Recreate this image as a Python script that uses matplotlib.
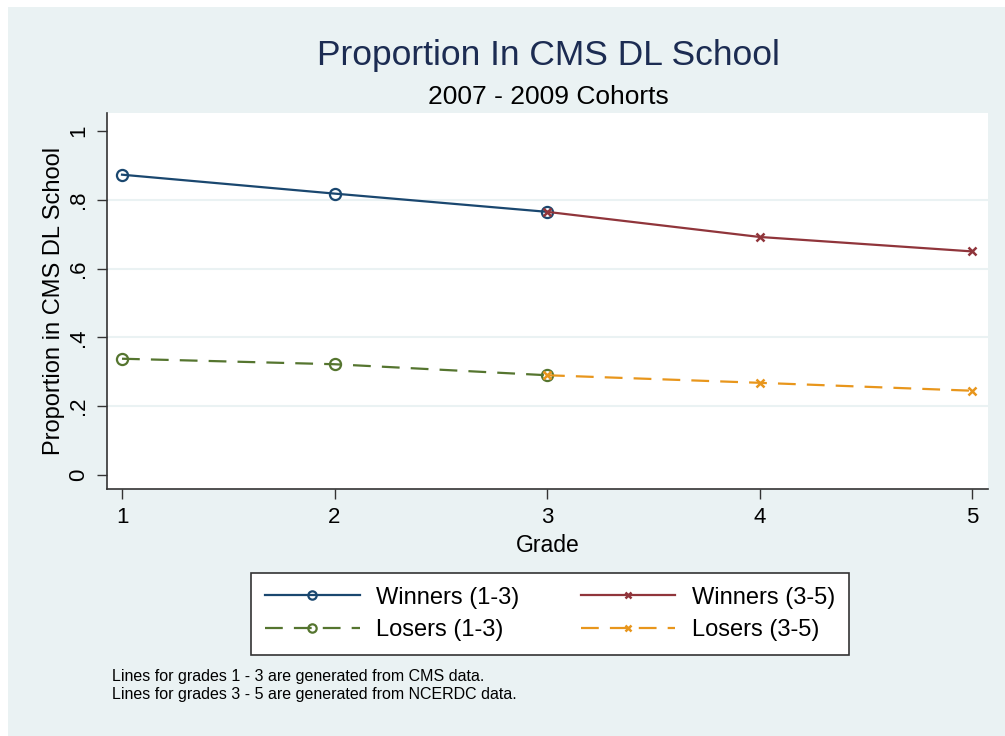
import matplotlib
matplotlib.use("Agg")
import matplotlib.pyplot as plt
from matplotlib.patches import Rectangle

plt.rcParams['font.family'] = ['Liberation Sans', 'DejaVu Sans']

grades_a = [1, 2, 3]
grades_b = [3, 4, 5]
winners_a = [0.873, 0.818, 0.765]
winners_b = [0.765, 0.692, 0.650]
losers_a = [0.338, 0.322, 0.290]
losers_b = [0.290, 0.268, 0.245]
labels = ["Winners (1-3)", "Winners (3-5)", "Losers (1-3)", "Losers (3-5)"]
yticks = [0, 0.2, 0.4, 0.6, 0.8, 1]
yticklabels = ["0", ".2", ".4", ".6", ".8", "1"]
xticks = [1, 2, 3, 4, 5]

W, H = 1005, 736
fig = plt.figure(figsize=(W / 100, H / 100), dpi=100)
fig.patch.set_facecolor("white")
bg = "#eaf2f3"
fig.patches.append(Rectangle((8 / W, 0), 1 - 8 / W, 1 - 7 / H, transform=fig.transFigure,
                             facecolor=bg, edgecolor="none", zorder=-10))

ax = fig.add_axes([107 / W, 1 - 489 / H, (988 - 107) / W, (489 - 113) / H])
ax.set_facecolor("white")

navy = "#1a476f"
maroon = "#90353b"
green = "#55752f"
orange = "#e8961c"
dash = (0, (8, 5))

l1, = ax.plot(grades_a, winners_a, color=navy, lw=1.6, marker="o", ms=8, mfc="none", mew=1.6, zorder=3)
l2, = ax.plot(grades_b, winners_b, color=maroon, lw=1.6, marker="x", ms=6, mew=1.8, zorder=3)
l3, = ax.plot(grades_a, losers_a, color=green, lw=1.6, ls=dash, marker="o", ms=8, mfc="none", mew=1.6, zorder=3)
l4, = ax.plot(grades_b, losers_b, color=orange, lw=1.6, ls=dash, marker="x", ms=6, mew=1.8, zorder=3)

ax.set_xlim(1 - 15 / 212.5, 5 + 16 / 212.5)
ax.set_ylim(-14 / 344, 1 + 18 / 344)
ax.set_yticks(yticks)
ax.set_yticklabels(yticklabels, rotation=90, va="center", fontsize=16)
ax.set_xticks(xticks)
ax.set_xticklabels([str(x) for x in xticks], fontsize=16)
ax.tick_params(length=7, width=1, color="#333333", pad=6)
for y in yticks[1:-1]:
    ax.axhline(y, color="#eaf2f3", lw=1.5, zorder=1)
for s in ["top", "right"]:
    ax.spines[s].set_visible(False)
for s in ["left", "bottom"]:
    ax.spines[s].set_color("#333333")
    ax.spines[s].set_linewidth(1.2)

ax.set_xlabel("Grade", fontsize=16.5, labelpad=4)
ax.set_ylabel("Proportion in CMS DL School", fontsize=17, labelpad=2)

fig.text(548 / W, 1 - 55 / H, "Proportion In CMS DL School", ha="center", va="center",
         fontsize=25.5, color="#1c2c52")
fig.text(548 / W, 1 - 97 / H, "2007 - 2009 Cohorts", ha="center", va="center", fontsize=19)

leg = fig.legend([l1, l3, l2, l4], [labels[0], labels[2], labels[1], labels[3]], ncol=2, loc="center",
                 bbox_to_anchor=(550 / W, 1 - 614 / H), fontsize=17, frameon=True,
                 fancybox=False, edgecolor="#333333", facecolor="white", framealpha=1,
                 handlelength=4.0, columnspacing=2.6,
                 handletextpad=0.7, borderpad=0.6, labelspacing=0.45, markerscale=0.75,
                 borderaxespad=0)
leg.get_frame().set_linewidth(1.2)

fig.text(112 / W, 1 - 676 / H, "Lines for grades 1 - 3 are generated from CMS data.", fontsize=11.5, va="center")
fig.text(112 / W, 1 - 694 / H, "Lines for grades 3 - 5 are generated from NCERDC data.", fontsize=11.5, va="center")

fig.savefig("out.png", dpi=100, facecolor=fig.get_facecolor())
